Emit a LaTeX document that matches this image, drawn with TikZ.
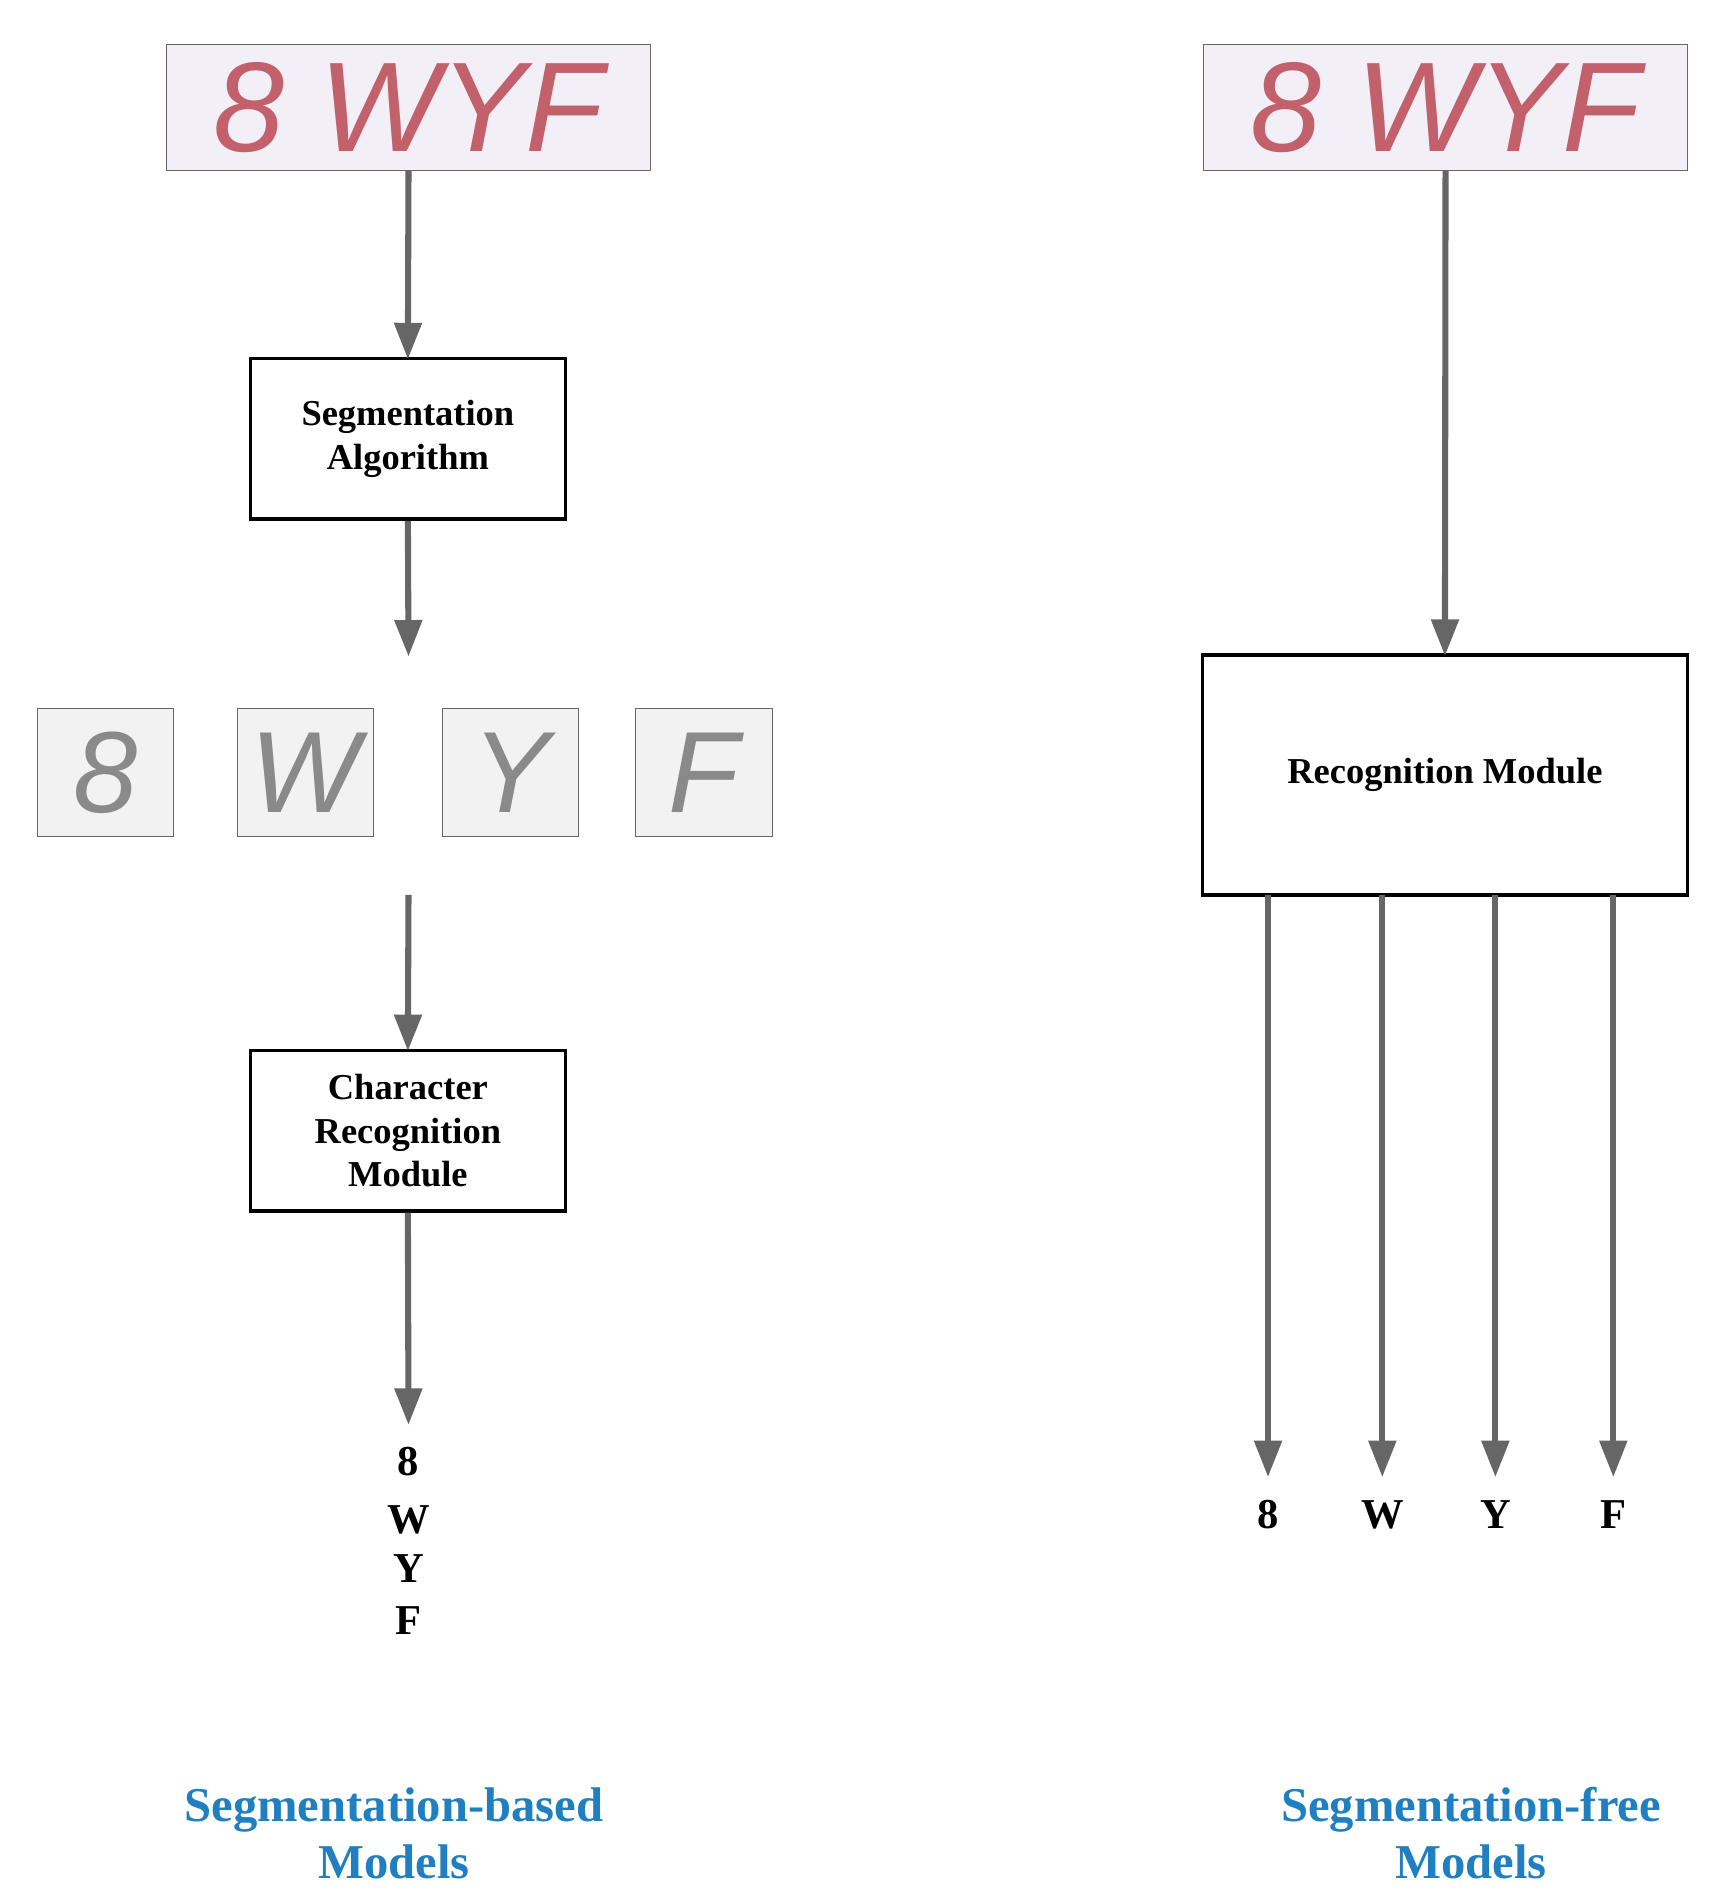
\documentclass[tikz,border=0pt]{standalone}
\usepackage{fontspec}
\setmainfont{Liberation Serif}
\newfontfamily\capfont{Liberation Sans}
\usetikzlibrary{arrows.meta}
\definecolor{arr}{HTML}{666666}
\definecolor{ttl}{HTML}{1F7FC0}
\definecolor{capbg}{HTML}{F3EFF6}
\definecolor{capfg}{HTML}{C2606C}
\definecolor{cropbg}{HTML}{F2F2F2}
\definecolor{cropfg}{HTML}{8A8A8A}
\tikzset{
 x=1pt,y=-1pt,
 flow/.style={draw=arr,line width=5pt,-{Triangle[length=30pt,width=22pt]},shorten >=-2pt},
 box/.style={draw=black,line width=3pt,align=center,font=\fontsize{30}{36}\selectfont\bfseries,inner sep=0pt},
 captcha/.style={draw=black!60,line width=0.8pt,fill=capbg,minimum width=398pt,minimum height=103pt,inner sep=0pt,font=\capfont\fontsize{105}{105}\selectfont\itshape,text=capfg},
 crop/.style={draw=black!60,line width=0.8pt,fill=cropbg,minimum width=112pt,minimum height=105pt,inner sep=0pt,font=\capfont\fontsize{95}{95}\selectfont\itshape,text=cropfg},
 lab/.style={font=\fontsize{35}{35}\selectfont\bfseries,inner sep=0pt},
 ttlst/.style={font=\fontsize{40}{47}\selectfont\bfseries,text=ttl,align=center}
}
\begin{document}
\begin{tikzpicture}
\useasboundingbox (0,0) rectangle (1415,1562);
% left column
\node[captcha] (capL) at (336,88.5) {8 WYF};
\node[box,minimum width=259pt,minimum height=132pt] (seg) at (335.5,361) {Segmentation\\Algorithm};
\coordinate (segend) at (336,538);
\node[crop] (c1) at (87,635.5) {8};
\node[crop] (c2) at (251,635.5) {W};
\node[crop] (c3) at (420,635.5) {Y};
\node[crop] (c4) at (579,635.5) {F};
\coordinate (cropsout) at (336,736);
\node[box,minimum width=259pt,minimum height=132pt] (chr) at (335.5,930) {Character\\Recognition\\Module};
\coordinate (chrend) at (336,1170);
\node[lab] (l8) at (336,1202) {8};
\node[lab] (lW) at (336,1250) {W};
\node[lab] (lY) at (336,1290) {Y};
\node[lab] (lF) at (336,1333) {F};
\draw[flow] (capL.south) -- (seg.north);
\draw[flow] (seg.south) -- (segend);
\draw[flow] (cropsout) -- (chr.north);
\draw[flow] (chr.south) -- (chrend);
\node[ttlst] (tl) at (324,1508) {Segmentation-based\\Models};
% right column
\node[captcha] (capR) at (1189,88.5) {8 WYF};
\node[box,minimum width=399pt,minimum height=197pt] (rec) at (1188.5,637.5) {Recognition Module};
\draw[flow] (capR.south) -- (rec.north);
\foreach \x/\n/\t in {1043/r8/8,1137/rW/W,1230/rY/Y,1327/rF/F}{
  \node[lab] (\n) at (\x,1246) {\t};
  \coordinate (\n s) at (\x,736);
  \coordinate (\n e) at (\x,1213);
  \draw[flow] (\n s) -- (\n e);
}
\node[ttlst] (tr) at (1210,1508) {Segmentation-free\\Models};
\end{tikzpicture}
\end{document}
